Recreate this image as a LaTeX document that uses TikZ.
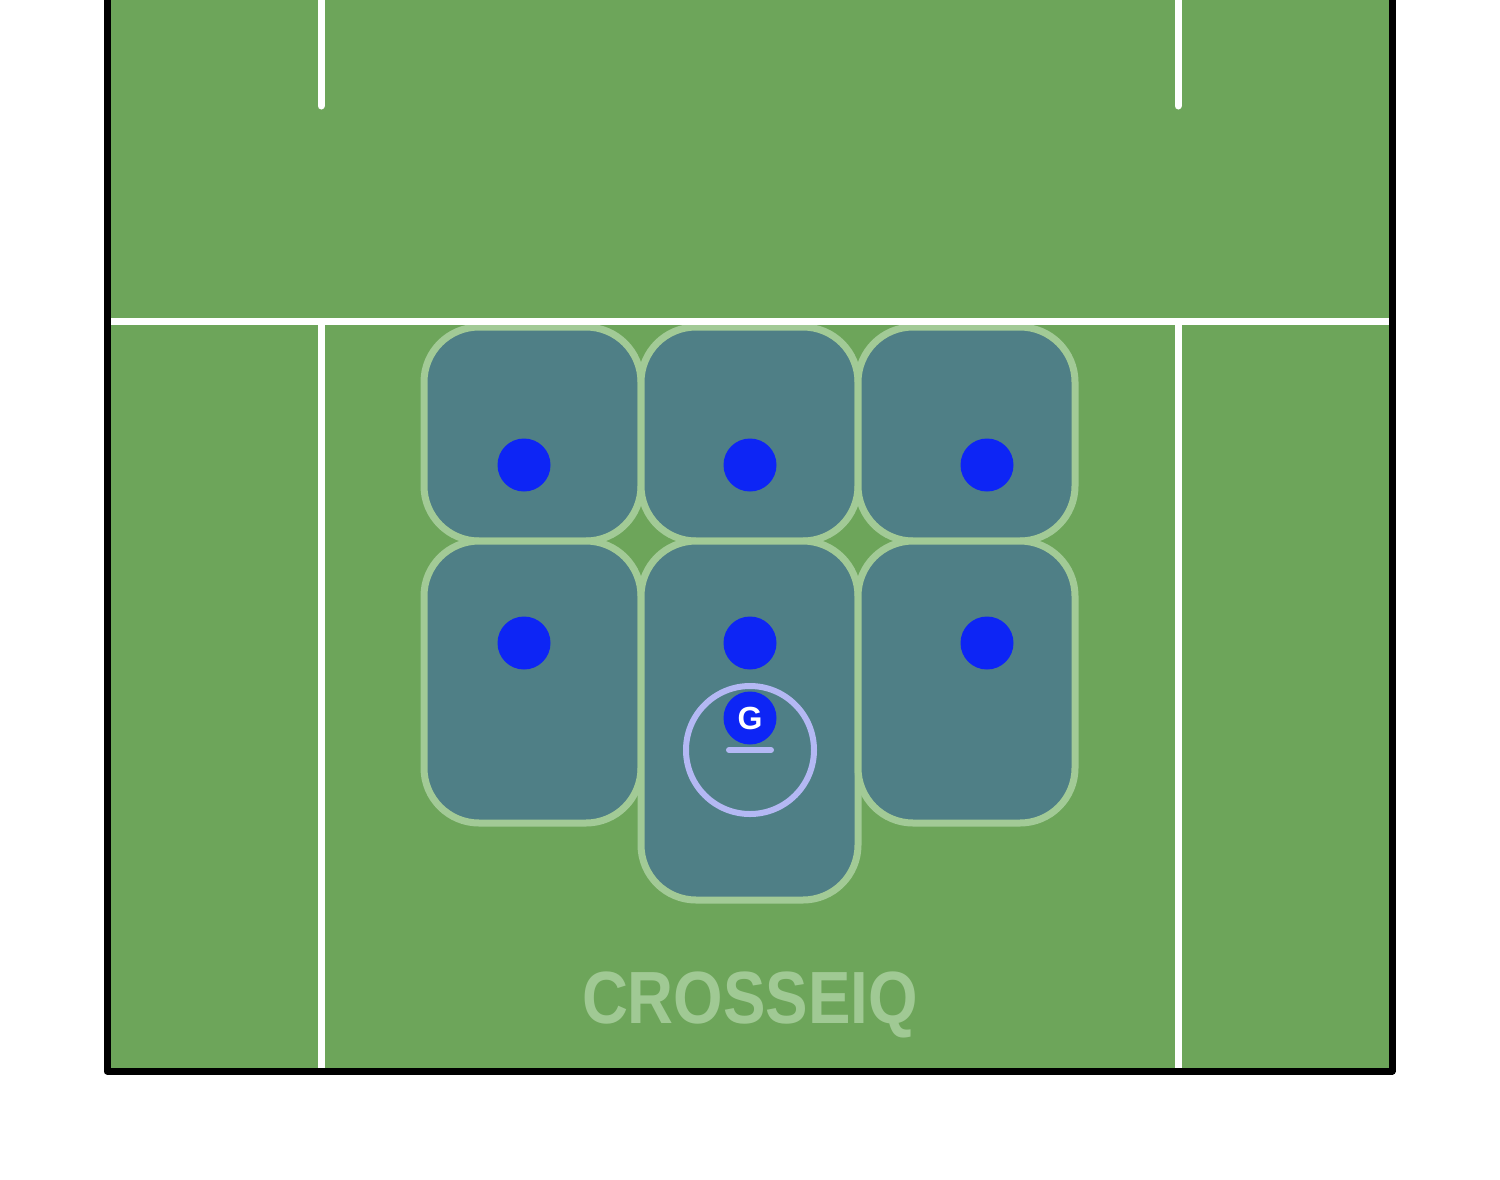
\documentclass[tikz,border=0pt]{standalone}
\usepackage{fontspec}
\setmainfont{Liberation Sans}
\newfontfamily\brandfont[FakeStretch=0.86]{Liberation Sans}
\usetikzlibrary{positioning}

\definecolor{turf}{HTML}{6DA55A}
\definecolor{zonefill}{HTML}{4F7F86}
\definecolor{zoneedge}{HTML}{A2CA96}
\definecolor{dotblue}{HTML}{0D25F5}
\definecolor{ringblue}{HTML}{B4B8F4}
\definecolor{brandgreen}{HTML}{A0C994}

\tikzset{
    zonebox/.style={draw=zoneedge, line width=7pt, fill=zonefill,
        rounded corners=55pt, minimum width=217pt, inner sep=0pt},
    player/.style={circle, fill=dotblue, minimum size=53pt, inner sep=0pt},
    fieldline/.style={white, line width=7pt}
}

\begin{document}
\begin{tikzpicture}[x=1pt, y=-1pt]
    \useasboundingbox (0,0) rectangle (1500,1179);
    \fill[turf] (107,0) rectangle (1392,1071);

    % zones
    \node[zonebox, minimum height=214pt] (z1) at (532.5,434) {};
    \node[zonebox, minimum height=214pt] (z2) at (749.5,434) {};
    \node[zonebox, minimum height=214pt] (z3) at (966.5,434) {};
    \node[zonebox, minimum height=282pt] (z4) at (532.5,682) {};
    \node[zonebox, minimum height=359pt] (z5) at (749.5,720.5) {};
    \node[zonebox, minimum height=282pt] (z6) at (966.5,682) {};

    % lines
    \coordinate (lt) at (321,0);
    \coordinate (lb) at (321,106);
    \coordinate (rt) at (1178,0);
    \coordinate (rb) at (1178,106);
    \coordinate (ml) at (111,321);
    \coordinate (mr) at (1389,321);
    \coordinate (sl) at (321,1068);
    \coordinate (sr) at (1178,1068);
    \draw[fieldline, line cap=round] (lt) -- (lb);
    \draw[fieldline, line cap=round] (rt) -- (rb);
    \draw[fieldline] (ml) -- (mr);
    \draw[fieldline] (ml -| sl) -- (sl);
    \draw[fieldline] (mr -| sr) -- (sr);

    % border
    \coordinate (bl) at (107,0);
    \coordinate (br) at (1392,0);
    \draw[black, line width=7pt, line join=round] (bl) -- ++(0,1071) -| (br);

    % players
    \node[player] (p1) at (524,465) {};
    \node[player] (p2) at (750,465) {};
    \node[player] (p3) at (987,465) {};
    \node[player] (p4) at (524,643) {};
    \node[player] (p5) at (750,643) {};
    \node[player] (p6) at (987,643) {};

    % goalie
    \node[circle, draw=ringblue, line width=6pt, minimum size=128pt, inner sep=0pt] (crease) at (750,750) {};
    \coordinate (gl) at (729,750);
    \coordinate (gr) at (771,750);
    \draw[ringblue, line width=6pt, line cap=round] (gl) -- (gr);
    \node[player, text=white, font=\fontsize{32}{32}\selectfont\bfseries] (g) at (750,718) {G};

    \node[text=brandgreen, font=\brandfont\fontsize{74}{74}\selectfont\bfseries] (brand) at (750,1005) {CROSSEIQ};
\end{tikzpicture}
\end{document}
